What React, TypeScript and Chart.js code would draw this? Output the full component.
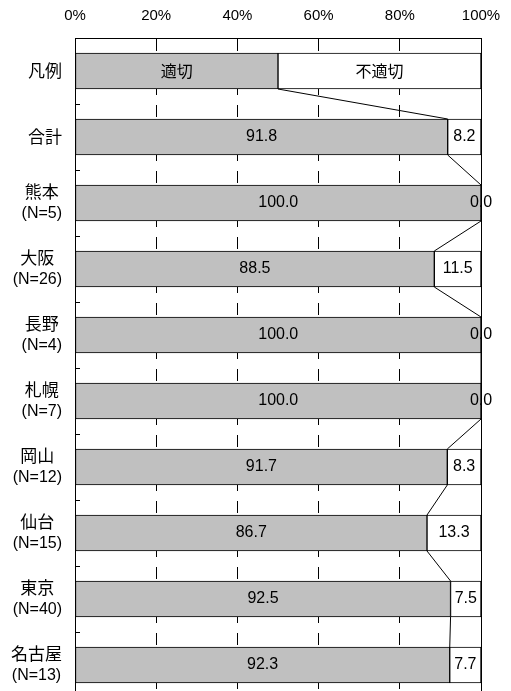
import React, { useEffect, useRef } from 'react';
import { Chart, registerables } from 'chart.js';

Chart.register(...registerables);

const categories = ['凡例', '合計', '熊本', '大阪', '長野', '札幌', '岡山', '仙台', '東京', '名古屋'];
const sampleSizes = ['', '', '(N=5)', '(N=26)', '(N=4)', '(N=7)', '(N=12)', '(N=15)', '(N=40)', '(N=13)'];
const seriesNames = ['適切', '不適切'];
const appropriate = [50, 91.8, 100.0, 88.5, 100.0, 100.0, 91.7, 86.7, 92.5, 92.3];
const inappropriate = [50, 8.2, 0.0, 11.5, 0.0, 0.0, 8.3, 13.3, 7.5, 7.7];
const xTickStep = 20;
const xMax = 100;

const LATIN = "'Liberation Sans', Arial, sans-serif";
const CJK = "'Noto Sans CJK JP', 'Noto Sans CJK SC', sans-serif";

const overlay = {
  id: 'overlay',
  beforeDatasetsDraw(chart: any) {
    const { ctx, chartArea, scales } = chart;
    const px = Math.round(scales.x.getPixelForValue(xMax)) + 0.5;
    ctx.save();
    ctx.strokeStyle = '#000';
    ctx.lineWidth = 1;
    ctx.beginPath();
    ctx.moveTo(px, chartArea.top);
    ctx.lineTo(px, chartArea.bottom);
    ctx.stroke();
    ctx.restore();
  },
  afterDatasetsDraw(chart: any) {
    const { ctx, chartArea, scales } = chart;
    const ys = scales.y;
    const m0 = chart.getDatasetMeta(0);
    const m1 = chart.getDatasetMeta(1);
    ctx.save();
    // series lines
    ctx.strokeStyle = '#000';
    ctx.lineWidth = 1;
    for (let i = 0; i < categories.length - 1; i++) {
      const a: any = m0.data[i];
      const b: any = m0.data[i + 1];
      ctx.beginPath();
      ctx.moveTo(a.x, a.y + a.height / 2);
      ctx.lineTo(b.x, b.y - b.height / 2);
      ctx.stroke();
    }
    // inner ticks on the category axis
    for (let i = 0; i < categories.length - 1; i++) {
      const yb = Math.round((ys.getPixelForValue(i) + ys.getPixelForValue(i + 1)) / 2) + 0.5;
      ctx.beginPath();
      ctx.moveTo(chartArea.left, yb);
      ctx.lineTo(chartArea.left + 5, yb);
      ctx.stroke();
    }
    // value labels
    ctx.fillStyle = '#000';
    ctx.textAlign = 'center';
    ctx.textBaseline = 'middle';
    for (let i = 0; i < categories.length; i++) {
      const g: any = m0.data[i];
      const w: any = m1.data[i];
      if (i === 0) {
        ctx.font = `16px ${CJK}`;
        ctx.fillText(seriesNames[0], (g.base + g.x) / 2, g.y);
        ctx.fillText(seriesNames[1], (w.base + w.x) / 2, w.y);
      } else {
        ctx.font = `16px ${LATIN}`;
        ctx.fillText(appropriate[i].toFixed(1), (g.base + g.x) / 2, g.y);
        ctx.fillText(inappropriate[i].toFixed(1), (w.base + w.x) / 2, w.y);
      }
    }
    // category labels
    const right = chartArea.left - 13;
    for (let i = 0; i < categories.length; i++) {
      const cy = ys.getPixelForValue(i);
      const lines: { text: string; font: string }[] = [{ text: categories[i], font: `17px ${CJK}` }];
      if (sampleSizes[i]) lines.push({ text: sampleSizes[i], font: `16px ${LATIN}` });
      let wMax = 0;
      for (const l of lines) {
        ctx.font = l.font;
        wMax = Math.max(wMax, ctx.measureText(l.text).width);
      }
      const cx = right - wMax / 2;
      const lh = 22;
      const y0 = cy - ((lines.length - 1) * lh) / 2;
      lines.forEach((l, k) => {
        ctx.font = l.font;
        ctx.fillText(l.text, cx, y0 + k * lh);
      });
    }
    ctx.restore();
  },
};

export default function App() {
  const ref = useRef<HTMLCanvasElement | null>(null);
  useEffect(() => {
    if (!ref.current) return;
    const chart = new Chart(ref.current, {
      type: 'bar',
      data: {
        labels: categories,
        datasets: [
          {
            label: seriesNames[0],
            data: appropriate,
            backgroundColor: '#C0C0C0',
            borderColor: '#000',
            borderWidth: 1,
            borderSkipped: false,
            barThickness: 36,
          },
          {
            label: seriesNames[1],
            data: inappropriate,
            backgroundColor: '#FFFFFF',
            borderColor: '#000',
            borderWidth: 1,
            borderSkipped: false,
            barThickness: 36,
          },
        ],
      },
      options: {
        indexAxis: 'y',
        animation: false,
        responsive: false,
        devicePixelRatio: 1,
        layout: { padding: { top: 0, right: 30, left: 0, bottom: 0 } },
        plugins: { legend: { display: false }, tooltip: { enabled: false } },
        scales: {
          x: {
            position: 'top',
            stacked: true,
            min: 0,
            max: xMax,
            ticks: {
              stepSize: xTickStep,
              padding: 13,
              color: '#000',
              font: { family: LATIN, size: 15 },
              callback: (v: any) => `${v}%`,
            },
            grid: {
              drawTicks: false,
              color: (c: any) => (c.tick && (c.tick.value === 0 || c.tick.value === xMax) ? 'rgba(0,0,0,0)' : '#000'),
              lineWidth: 1,
            },
            border: { display: true, color: '#000', width: 1, dash: [12, 10] },
            afterFit: (s: any) => {
              s.height = 38;
              s.paddingLeft = 0;
              s.paddingRight = 0;
            },
          },
          y: {
            stacked: true,
            ticks: { display: false },
            grid: { display: false },
            border: { display: true, color: '#000', width: 1 },
            afterFit: (s: any) => {
              s.width = 75;
            },
          },
        },
      },
      plugins: [overlay],
    } as any);
    return () => chart.destroy();
  }, []);
  return (
    <div style={{ position: 'fixed', left: 0, top: 0, width: 511, height: 691, overflow: 'hidden', background: '#fff' }}>
      <canvas ref={ref} width={511} height={698} style={{ display: 'block' }} />
    </div>
  );
}
